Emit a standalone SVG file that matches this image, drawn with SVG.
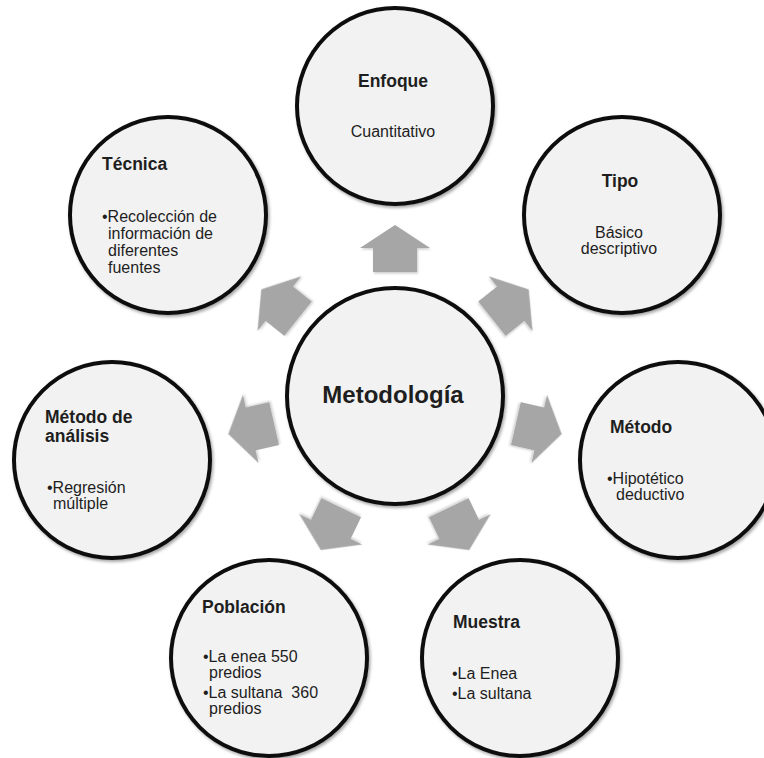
<svg xmlns="http://www.w3.org/2000/svg" xmlns:xlink="http://www.w3.org/1999/xlink" width="764" height="758" viewBox="0 0 764 758">
<defs>
<filter id="sh" x="-20%" y="-20%" width="140%" height="140%">
<feDropShadow dx="1.5" dy="2" stdDeviation="1.8" flood-color="#000" flood-opacity="0.35"/>
</filter>
<filter id="ash" x="-20%" y="-20%" width="140%" height="140%">
<feDropShadow dx="1" dy="1.5" stdDeviation="1.2" flood-color="#000" flood-opacity="0.2"/>
</filter>
<path id="arr" d="M0,-171 L35,-148 L22,-148 L22,-124 L-22,-124 L-22,-148 L-35,-148 Z"/>
</defs>
<style>
.c{fill:#f2f2f2;stroke:#111;stroke-width:4;filter:url(#sh)}
.a{fill:#a6a6a6;filter:url(#ash)}
text{font-family:"Liberation Sans",Arial,sans-serif;fill:#1e1e1e}
.t{font-size:17.5px;font-weight:bold}
.b{font-size:16px}
.m{font-size:24px;font-weight:bold}
</style>
<rect width="764" height="758" fill="#fff"/>
<g id="connectors">
<use xlink:href="#arr" class="a" transform="translate(395,396) rotate(0)"/>
<use xlink:href="#arr" class="a" transform="translate(395,396) rotate(51.43)"/>
<use xlink:href="#arr" class="a" transform="translate(395,396) rotate(102.86)"/>
<use xlink:href="#arr" class="a" transform="translate(395,396) rotate(154.29)"/>
<use xlink:href="#arr" class="a" transform="translate(395,396) rotate(205.71)"/>
<use xlink:href="#arr" class="a" transform="translate(395,396) rotate(257.14)"/>
<use xlink:href="#arr" class="a" transform="translate(395,396) rotate(308.57)"/>
</g>
<g id="metodologia">
<circle class="c" cx="395" cy="396" r="108"/>
<text class="m" x="393" y="403" text-anchor="middle">Metodología</text>
</g>
<g id="enfoque">
<circle class="c" cx="395" cy="106" r="98"/>
<text class="t" x="393" y="87" text-anchor="middle">Enfoque</text>
<text class="b" x="393" y="137" text-anchor="middle">Cuantitativo</text>
</g>
<g id="tipo">
<circle class="c" cx="622" cy="215" r="98"/>
<text class="t" x="620" y="187" text-anchor="middle">Tipo</text>
<text class="b" x="619" y="238" text-anchor="middle">Básico</text>
<text class="b" x="619" y="254" text-anchor="middle">descriptivo</text>
</g>
<g id="metodo">
<circle class="c" cx="678" cy="460" r="98"/>
<text class="t" x="610" y="433">Método</text>
<text class="b" x="607" y="484">•Hipotético</text>
<text class="b" x="616" y="500">deductivo</text>
</g>
<g id="muestra">
<circle class="c" cx="520" cy="658" r="98"/>
<text class="t" x="453" y="628">Muestra</text>
<text class="b" x="452" y="679">•La Enea</text>
<text class="b" x="452" y="699">•La sultana</text>
</g>
<g id="poblacion">
<circle class="c" cx="269" cy="658" r="98"/>
<text class="t" x="202" y="613">Población</text>
<text class="b" x="203" y="662">•La enea 550</text>
<text class="b" x="209" y="678">predios</text>
<text class="b" x="203" y="698">•La sultana&#160; 360</text>
<text class="b" x="209" y="714">predios</text>
</g>
<g id="metodo-analisis">
<circle class="c" cx="112" cy="460" r="98"/>
<text class="t" x="45" y="423">Método de</text>
<text class="t" x="45" y="442">análisis</text>
<text class="b" x="47" y="493">•Regresión</text>
<text class="b" x="53" y="509">múltiple</text>
</g>
<g id="tecnica">
<circle class="c" cx="168" cy="215" r="98"/>
<text class="t" x="102" y="170">Técnica</text>
<text class="b" x="102" y="222">•Recolección de</text>
<text class="b" x="108" y="239">información de</text>
<text class="b" x="108" y="256">diferentes</text>
<text class="b" x="108" y="273">fuentes</text>
</g>
</svg>
